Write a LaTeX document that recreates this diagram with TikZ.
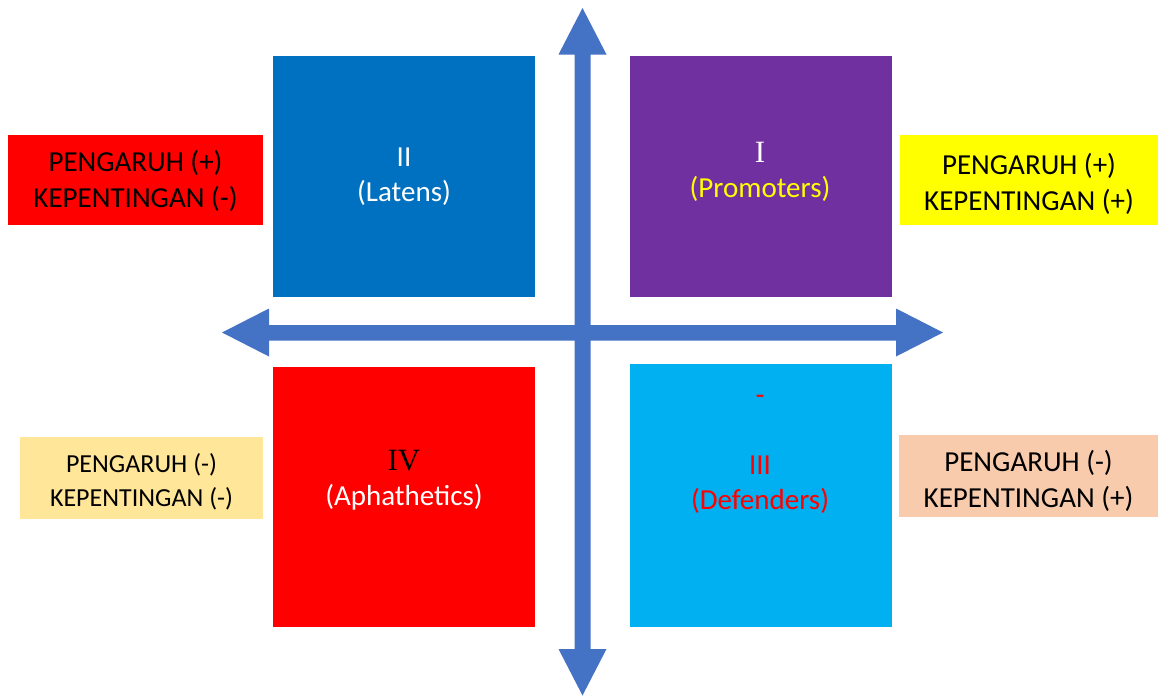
\documentclass[tikz,border=0pt]{standalone}
\usepackage{fontspec}
\setmainfont{Carlito}
\newfontfamily\romanfont{Liberation Serif}

\definecolor{latensblue}{HTML}{0070C0}
\definecolor{promoterpurple}{HTML}{7030A0}
\definecolor{apathred}{HTML}{FF0000}
\definecolor{defendercyan}{HTML}{00B0F0}
\definecolor{axisblue}{HTML}{4472C4}
\definecolor{markyellow}{HTML}{FFFF00}
\definecolor{paleyellow}{HTML}{FFE699}
\definecolor{peach}{HTML}{F8CBAD}

\tikzset{
  quad/.style={inner sep=0pt, outer sep=0pt, minimum width=262pt},
  quadtext/.style={inner sep=0pt, align=center, font=\fontsize{29}{35}\selectfont},
  sidebox/.style={inner sep=0pt, outer sep=0pt},
  sidelabel/.style={inner sep=0pt, align=center, font=\fontsize{29}{36}\selectfont},
}

\begin{document}
\begin{tikzpicture}[x=1pt,y=-1pt]
    \useasboundingbox (0,0) rectangle (1158,699);

    % four quadrants
    \node[quad, fill=latensblue, minimum height=241pt] (latens) at (404,176) {};
    \node[quad, fill=promoterpurple, minimum height=241pt] (promoters) at (760.5,176) {};
    \node[quad, fill=apathred, minimum height=260pt] (apathetics) at (404,497) {};
    \node[quad, fill=defendercyan, minimum height=263pt] (defenders) at (760.5,495.5) {};

    % axes
    \fill[axisblue] (222,332.5)--(269,308.5)--(269,325)--(896,325)--(896,308.5)--(943,332.5)
        --(896,356.5)--(896,340.5)--(269,340.5)--(269,356.5)--cycle;
    \fill[axisblue] (582.5,8)--(606.5,54.5)--(590.5,54.5)--(590.5,649)--(606.5,649)--(582.5,695.5)
        --(558.5,649)--(574.5,649)--(574.5,54.5)--(558.5,54.5)--cycle;

    % quadrant texts
    \node[quadtext, text=white] (latenstxt) at (404,176.5) {II\\(Latens)};
    \node[quadtext] (promotertxt) at (760,171.5)
        {{\romanfont\fontsize{31}{35}\selectfont\color{white}I}\\{\color{markyellow}(Promoters)}};
    \node[quadtext] (apathtxt) at (404,480.5)
        {{\romanfont\fontsize{31}{35}\selectfont\color{black}IV}\\{\color{white}(Aphathetics)}};
    \node[quadtext, text=apathred] (dashtxt) at (760,400) {-};
    \node[quadtext, text=apathred] (defendertxt) at (760,484.5) {III\\(Defenders)};

    % side labels
    \node[sidebox, fill=apathred, minimum width=255pt, minimum height=90pt] (pmin) at (135.5,180) {};
    \node[sidelabel] (pmintxt) at (135.5,181) {PENGARUH (+)\\KEPENTINGAN (-)};
    \node[sidebox, fill=markyellow, minimum width=258pt, minimum height=90pt] (pplus) at (1029,180) {};
    \node[sidelabel] (pplustxt) at (1029,183.5) {PENGARUH (+)\\KEPENTINGAN (+)};
    \node[sidebox, fill=paleyellow, minimum width=243pt, minimum height=82pt] (mmin) at (141.5,478) {};
    \node[sidelabel, font=\fontsize{26}{34}\selectfont] (mmintxt) at (141.5,481.5)
        {PENGARUH (-)\\KEPENTINGAN (-)};
    \node[sidebox, fill=peach, minimum width=259pt, minimum height=82pt] (mplus) at (1028.5,476) {};
    \begin{scope}
        \clip (mplus.north west) rectangle (mplus.south east);
        \node[sidelabel] (mplustxt) at (1028.5,481) {PENGARUH (-)\\KEPENTINGAN (+)};
    \end{scope}
\end{tikzpicture}
\end{document}
